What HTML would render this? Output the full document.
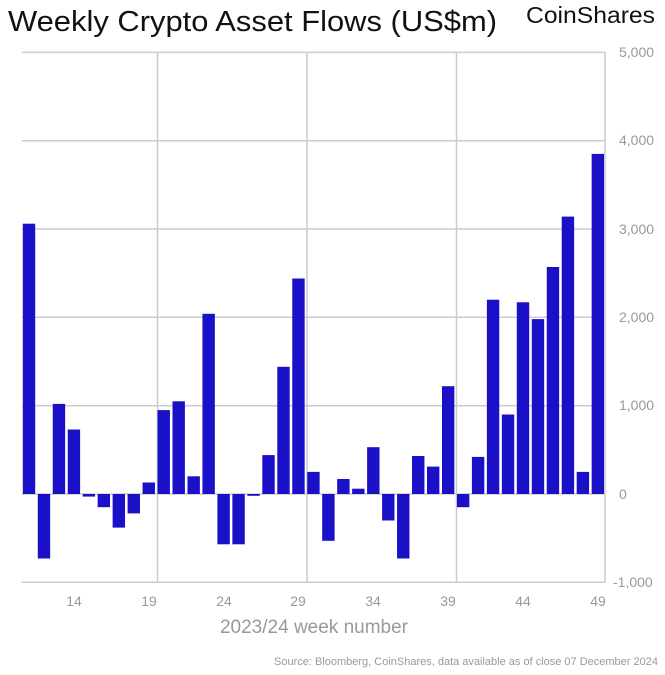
<!DOCTYPE html>
<html><head><style>
body{margin:0;background:#fff;}
svg{display:block;font-family:"Liberation Sans",sans-serif;}
</style></head><body>
<svg width="665" height="675" viewBox="0 0 665 675" xmlns="http://www.w3.org/2000/svg">
<text x="8" y="31" font-size="29" fill="#111" textLength="489" lengthAdjust="spacingAndGlyphs">Weekly Crypto Asset Flows (US$m)</text>
<text x="526" y="23" font-size="23" fill="#111" textLength="129" lengthAdjust="spacingAndGlyphs">CoinShares</text>
<g stroke="#cccccc" stroke-width="1.5">
<line x1="22" y1="52.4" x2="605" y2="52.4"/>
<line x1="22" y1="140.7" x2="605" y2="140.7"/>
<line x1="22" y1="229" x2="605" y2="229"/>
<line x1="22" y1="317.3" x2="605" y2="317.3"/>
<line x1="22" y1="405.7" x2="605" y2="405.7"/>
<line x1="22" y1="494" x2="605" y2="494"/>
<line x1="22" y1="582.3" x2="605" y2="582.3"/>
<line x1="157.5" y1="52" x2="157.5" y2="583"/>
<line x1="307" y1="52" x2="307" y2="583"/>
<line x1="456.5" y1="52" x2="456.5" y2="583"/>
<line x1="605" y1="52" x2="605" y2="583"/>
</g>
<g fill="#1a10c8">
<rect x="22.8" y="223.7" width="12.4" height="270.3"/>
<rect x="37.77" y="494" width="12.4" height="64.5"/>
<rect x="52.74" y="403.9" width="12.4" height="90.1"/>
<rect x="67.71" y="429.5" width="12.4" height="64.5"/>
<rect x="82.68" y="494" width="12.4" height="2.6"/>
<rect x="97.65" y="494" width="12.4" height="13.2"/>
<rect x="112.62" y="494" width="12.4" height="33.6"/>
<rect x="127.59" y="494" width="12.4" height="19.4"/>
<rect x="142.56" y="482.5" width="12.4" height="11.5"/>
<rect x="157.53" y="410.1" width="12.4" height="83.9"/>
<rect x="172.5" y="401.3" width="12.4" height="92.7"/>
<rect x="187.47" y="476.3" width="12.4" height="17.7"/>
<rect x="202.44" y="313.8" width="12.4" height="180.2"/>
<rect x="217.41" y="494" width="12.4" height="50.3"/>
<rect x="232.38" y="494" width="12.4" height="50.3"/>
<rect x="247.35" y="494" width="12.4" height="1.8"/>
<rect x="262.32" y="455.1" width="12.4" height="38.9"/>
<rect x="277.29" y="366.8" width="12.4" height="127.2"/>
<rect x="292.26" y="278.5" width="12.4" height="215.5"/>
<rect x="307.23" y="471.9" width="12.4" height="22.1"/>
<rect x="322.2" y="494" width="12.4" height="46.8"/>
<rect x="337.17" y="479" width="12.4" height="15"/>
<rect x="352.14" y="488.7" width="12.4" height="5.3"/>
<rect x="367.11" y="447.2" width="12.4" height="46.8"/>
<rect x="382.08" y="494" width="12.4" height="26.5"/>
<rect x="397.05" y="494" width="12.4" height="64.5"/>
<rect x="412.02" y="456" width="12.4" height="38"/>
<rect x="426.99" y="466.6" width="12.4" height="27.4"/>
<rect x="441.96" y="386.2" width="12.4" height="107.8"/>
<rect x="456.93" y="494" width="12.4" height="13.2"/>
<rect x="471.9" y="456.9" width="12.4" height="37.1"/>
<rect x="486.87" y="299.7" width="12.4" height="194.3"/>
<rect x="501.84" y="414.5" width="12.4" height="79.5"/>
<rect x="516.81" y="302.3" width="12.4" height="191.7"/>
<rect x="531.78" y="319.1" width="12.4" height="174.9"/>
<rect x="546.75" y="267" width="12.4" height="227"/>
<rect x="561.72" y="216.6" width="12.4" height="277.4"/>
<rect x="576.69" y="471.9" width="12.4" height="22.1"/>
<rect x="591.66" y="153.9" width="12.4" height="340.1"/>
</g>
<g font-size="14" fill="#999" text-anchor="start">
<text x="619" y="57">5,000</text>
<text x="619" y="145">4,000</text>
<text x="619" y="234">3,000</text>
<text x="619" y="322">2,000</text>
<text x="619" y="410">1,000</text>
<text x="619" y="499">0</text>
<text x="613" y="587">-1,000</text>
</g>
<g font-size="14" fill="#999" text-anchor="middle">
<text x="74" y="606">14</text>
<text x="149" y="606">19</text>
<text x="224" y="606">24</text>
<text x="298" y="606">29</text>
<text x="373" y="606">34</text>
<text x="448" y="606">39</text>
<text x="523" y="606">44</text>
<text x="598" y="606">49</text>
</g>
<text x="314" y="633" font-size="19" fill="#999" text-anchor="middle">2023/24 week number</text>
<text x="658" y="665" font-size="11" fill="#999" text-anchor="end">Source: Bloomberg, CoinShares, data available as of close 07 December 2024</text>
</svg>
</body></html>
